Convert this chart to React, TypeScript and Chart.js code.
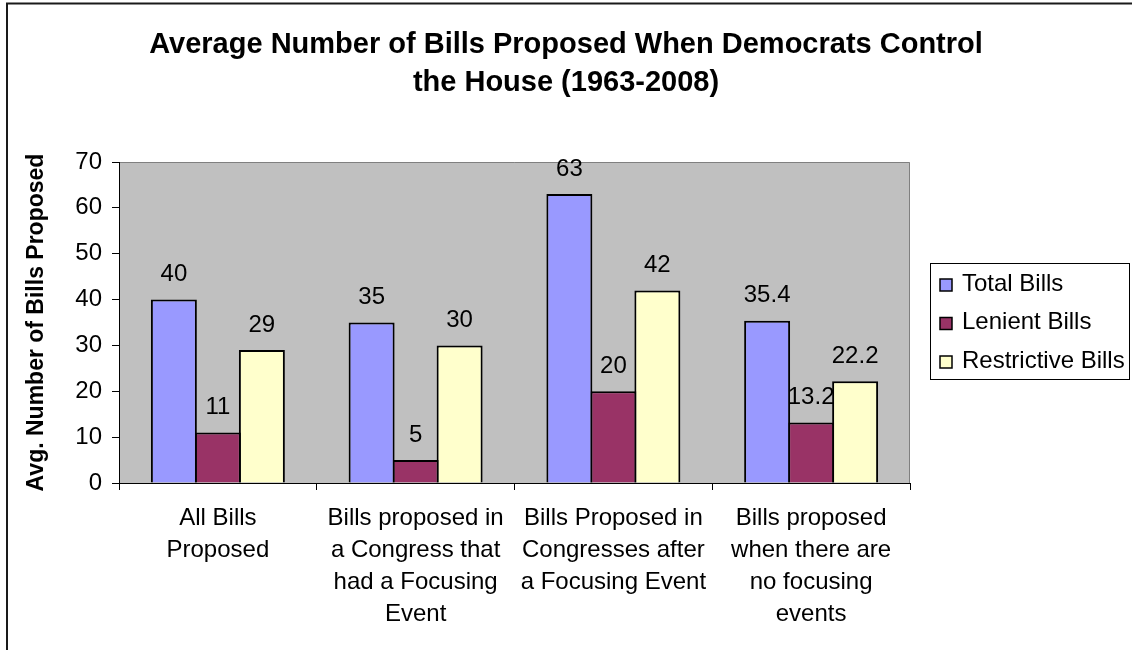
import { useEffect, useRef } from "react";
import { Chart, registerables } from "chart.js";

Chart.register(...registerables);

const titleLines = [
  "Average Number of Bills Proposed When Democrats Control",
  "the House (1963-2008)",
];
const yAxisTitle = "Avg. Number of Bills Proposed";
const categories = [
  ["All Bills", "Proposed"],
  ["Bills proposed in", "a Congress that", "had a Focusing", "Event"],
  ["Bills Proposed in", "Congresses after", "a Focusing Event"],
  ["Bills proposed", "when there are", "no focusing", "events"],
];
const seriesNames = ["Total Bills", "Lenient Bills", "Restrictive Bills"];
const totalBills = [40, 35, 63, 35.4];
const lenientBills = [11, 5, 20, 13.2];
const restrictiveBills = [29, 30, 42, 22.2];
const seriesColors = ["#9999FF", "#993366", "#FFFFCC"];
const yMin = 0;
const yMax = 70;
const yStep = 10;

const FONT = "'Liberation Sans', Arial, sans-serif";

const decorPlugin = {
  id: "decor",
  beforeDraw(chart: any) {
    const { ctx, chartArea: a } = chart;
    ctx.save();
    ctx.fillStyle = "#FFFFFF";
    ctx.fillRect(0, 0, chart.width, chart.height);
    // outer frame
    ctx.strokeStyle = "#1a1a1a";
    ctx.lineWidth = 2;
    ctx.beginPath();
    ctx.moveTo(7, chart.height + 2);
    ctx.lineTo(7, 3.5);
    ctx.lineTo(chart.width + 2, 3.5);
    ctx.stroke();
    // plot area
    ctx.fillStyle = "#C0C0C0";
    ctx.fillRect(a.left, a.top, a.right - a.left, a.bottom - a.top);
    ctx.strokeStyle = "#808080";
    ctx.lineWidth = 1;
    ctx.beginPath();
    ctx.moveTo(a.left, a.top + 0.5);
    ctx.lineTo(a.right - 0.5, a.top + 0.5);
    ctx.lineTo(a.right - 0.5, a.bottom);
    ctx.stroke();
    // title
    ctx.fillStyle = "#000";
    ctx.font = `bold 29px ${FONT}`;
    ctx.textAlign = "center";
    ctx.textBaseline = "alphabetic";
    ctx.fillText(titleLines[0], 566, 53);
    ctx.fillText(titleLines[1], 566, 90.5);
    ctx.restore();
  },
  afterDatasetsDraw(chart: any) {
    const { ctx } = chart;
    ctx.save();
    ctx.fillStyle = "#000";
    ctx.font = `24px ${FONT}`;
    ctx.textAlign = "center";
    ctx.textBaseline = "middle";
    chart.data.datasets.forEach((ds: any, i: number) => {
      const meta = chart.getDatasetMeta(i);
      meta.data.forEach((bar: any, j: number) => {
        ctx.fillText(String(ds.data[j]), bar.x, bar.y - 25);
      });
    });
    ctx.restore();
  },
  afterDraw(chart: any) {
    const { ctx } = chart;
    ctx.save();
    // legend box
    const L = 930, T = 263, R = 1130, B = 380;
    ctx.fillStyle = "#FFFFFF";
    ctx.fillRect(L, T, R - L, B - T);
    ctx.strokeStyle = "#000";
    ctx.lineWidth = 1;
    ctx.strokeRect(L + 0.5, T + 0.5, R - L - 1, B - T - 1);
    const rowY = [283, 321.5, 360];
    ctx.font = `24px ${FONT}`;
    ctx.textAlign = "left";
    ctx.textBaseline = "middle";
    chart.data.datasets.forEach((ds: any, i: number) => {
      const cy = rowY[i];
      ctx.fillStyle = ds.backgroundColor;
      ctx.fillRect(940, cy - 4, 12, 12);
      ctx.strokeStyle = "#000";
      ctx.lineWidth = 1.5;
      ctx.strokeRect(940, cy - 4, 12, 12);
      ctx.fillStyle = "#000";
      ctx.fillText(ds.label, 962, cy + 1);
    });
    ctx.restore();
  },
};

export default function App() {
  const ref = useRef<HTMLCanvasElement | null>(null);
  useEffect(() => {
    if (!ref.current) return;
    const series = [totalBills, lenientBills, restrictiveBills];
    const chart = new Chart(ref.current, {
      type: "bar",
      data: {
        labels: categories,
        datasets: series.map((d, i) => ({
          label: seriesNames[i],
          data: d,
          backgroundColor: seriesColors[i],
          borderColor: "#000",
          borderWidth: 2,
          categoryPercentage: 0.6675,
          barPercentage: 1.045,
        })),
      },
      options: {
        responsive: false,
        animation: false,
        layout: { padding: { top: 162, right: 222, left: 0, bottom: 0 } },
        plugins: {
          legend: { display: false },
          title: { display: false },
          tooltip: { enabled: false },
        },
        scales: {
          x: {
            type: "category",
            offset: true,
            afterFit: (s: any) => {
              s.height = 167;
            },
            grid: {
              offset: true,
              drawOnChartArea: false,
              drawTicks: true,
              tickLength: 7,
              color: "#000",
            },
            border: { display: true, color: "#000", width: 1 },
            ticks: {
              color: "#000",
              font: { family: FONT, size: 24, lineHeight: 1.32 },
              padding: 13,
              maxRotation: 0,
              minRotation: 0,
              autoSkip: false,
            },
          },
          y: {
            min: yMin,
            max: yMax,
            afterFit: (s: any) => {
              s.width = 119;
            },
            grid: {
              drawOnChartArea: false,
              drawTicks: true,
              tickLength: 7,
              color: "#000",
            },
            border: { display: true, color: "#000", width: 1 },
            ticks: {
              stepSize: yStep,
              color: "#000",
              font: { family: FONT, size: 24 },
              padding: 10,
            },
            title: {
              display: true,
              text: yAxisTitle,
              color: "#000",
              font: { family: FONT, size: 23, weight: "bold" },
              padding: { top: 23, bottom: 0 },
            },
          },
        },
      },
      plugins: [decorPlugin],
    } as any);
    return () => chart.destroy();
  }, []);
  return (
    <div style={{ position: "absolute", left: 0, top: 0, width: 1132, height: 650 }}>
      <canvas ref={ref} width={1132} height={650} />
    </div>
  );
}
